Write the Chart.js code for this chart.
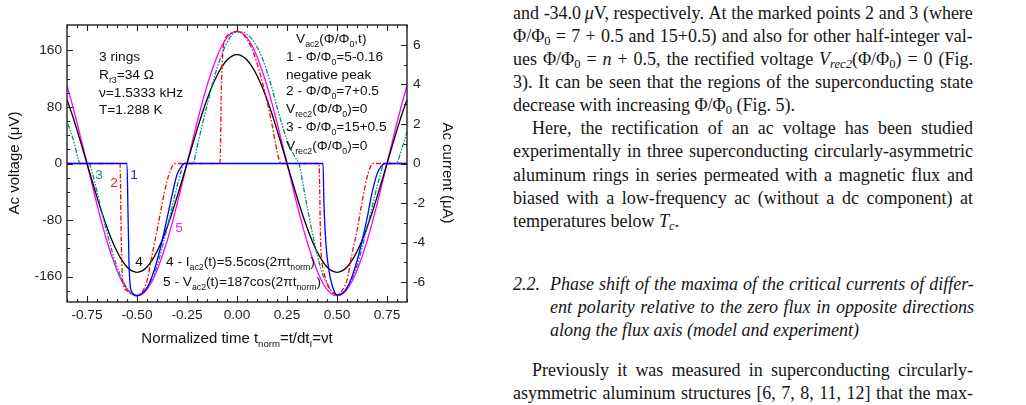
<!DOCTYPE html>
<html>
<head>
<meta charset="utf-8">
<script src="https://cdn.jsdelivr.net/npm/chart.js@4/dist/chart.umd.min.js"></script>
<style>
html, body { margin: 0; padding: 0; background: #fff; }
body { width: 1026px; height: 405px; position: relative; overflow: hidden; }
#chartBox { position: absolute; left: 0; top: 0; width: 470px; height: 405px; }
.ln { position: absolute; font-family: 'Liberation Serif', 'Times New Roman', serif; font-size: 18px;
      line-height: 23px; height: 23px; color: #151515; white-space: nowrap; }
.ln.j { display: flex; justify-content: space-between; }
.ln sub { font-size: 70%; vertical-align: -0.25em; line-height: 0; }
</style>
</head>
<body>
<div id="chartBox"><canvas id="acChart" width="470" height="405"></canvas></div>
<div id="textCol"></div>
<script>
// time axis (normalized) and the two reference curves
var tNorm = [-0.85,-0.825,-0.8,-0.775,-0.75,-0.725,-0.7,-0.675,-0.65,-0.625,-0.6,-0.575,-0.55,-0.525,-0.5,
  -0.475,-0.45,-0.425,-0.4,-0.375,-0.35,-0.325,-0.3,-0.275,-0.25,-0.225,-0.2,-0.175,-0.15,-0.125,-0.1,-0.075,-0.05,-0.025,0,
  0.025,0.05,0.075,0.1,0.125,0.15,0.175,0.2,0.225,0.25,0.275,0.3,0.325,0.35,0.375,0.4,0.425,0.45,0.475,0.5,
  0.525,0.55,0.575,0.6,0.625,0.65,0.675,0.7,0.725,0.75,0.775,0.8,0.825,0.85];
var vAc2 = [110,85,58,29,0,-29,-58,-85,-110,-132,-151,-167,-178,-185,-187,
  -185,-178,-167,-151,-132,-110,-85,-58,-29,0,29,58,85,110,132,151,167,178,185,187,
  185,178,167,151,132,110,85,58,29,0,-29,-58,-85,-110,-132,-151,-167,-178,-185,-187,
  -185,-178,-167,-151,-132,-110,-85,-58,-29,0,29,58,85,110];
var iAc2 = [3.23,2.50,1.70,0.86,0,-0.86,-1.70,-2.50,-3.23,-3.89,-4.45,-4.90,-5.23,-5.43,-5.50,
  -5.43,-5.23,-4.90,-4.45,-3.89,-3.23,-2.50,-1.70,-0.86,0,0.86,1.70,2.50,3.23,3.89,4.45,4.90,5.23,5.43,5.50,
  5.43,5.23,4.90,4.45,3.89,3.23,2.50,1.70,0.86,0,-0.86,-1.70,-2.50,-3.23,-3.89,-4.45,-4.90,-5.23,-5.43,-5.50,
  -5.43,-5.23,-4.90,-4.45,-3.89,-3.23,-2.50,-1.70,-0.86,0,0.86,1.70,2.50,3.23];

// curve 1: flux 5-0.16 (negative peak)
var tRec1 = [-0.85,-0.55,-0.545,-0.54,-0.535,-0.525,-0.5,-0.475,-0.45,-0.425,-0.4,-0.375,-0.35,-0.325,-0.3,-0.28,-0.265,
  0.43,0.435,0.445,0.46,0.475,0.49,0.5,0.525,0.55,0.575,0.6,0.625,0.65,0.675,0.7,0.72,0.74,0.85];
var vRec1 = [0,0,-70,-140,-170,-182,-187,-184,-176,-160,-138,-110,-78,-45,-16,-5,0,
  0,-60,-115,-152,-172,-183,-186,-184,-176,-160,-138,-110,-78,-42,-15,-4,0,0];

// curve 2: flux 7+0.5
var tRec2 = [-0.85,-0.585,-0.578,-0.57,-0.55,-0.525,-0.5,-0.475,-0.45,-0.425,-0.4,-0.375,-0.35,-0.33,-0.31,
  -0.085,-0.078,-0.07,-0.06,-0.045,-0.025,0,0.025,0.05,0.075,0.1,0.125,0.15,0.175,0.195,0.21,0.22,
  0.41,0.418,0.425,0.44,0.46,0.48,0.5,0.525,0.55,0.575,0.6,0.625,0.65,0.665,0.68,0.85];
var vRec2 = [0,0,-120,-170,-180,-185,-187,-182,-166,-130,-95,-58,-25,-8,0,
  0,110,160,176,182,185,187,184,176,162,142,117,88,55,25,6,0,
  0,-110,-140,-160,-175,-183,-186,-180,-165,-128,-95,-55,-20,-6,0,0];

// curve 3: flux 15+0.5
var tRec3 = [-0.845,-0.815,-0.795,-0.785,-0.74,-0.725,-0.7,-0.675,-0.65,-0.625,-0.6,-0.575,-0.55,-0.525,-0.5,
  -0.475,-0.45,-0.425,-0.4,-0.375,-0.35,-0.325,-0.3,-0.28,-0.265,-0.22,-0.2,-0.175,-0.15,-0.125,-0.1,-0.075,-0.05,-0.025,0,
  0.025,0.05,0.075,0.1,0.125,0.15,0.175,0.2,0.225,0.25,0.275,0.3,0.31,0.325,0.35,0.375,0.4,0.425,0.45,0.475,0.5,
  0.525,0.55,0.575,0.6,0.625,0.65,0.675,0.7,0.72,0.735,0.795,0.825,0.85];
var vRec3 = [56,30,8,0,0,-12,-40,-70,-98,-124,-146,-164,-176,-184,-186,
  -184,-176,-163,-145,-120,-92,-62,-33,-12,0,0,23,53,82,110,135,155,171,182,186,
  186,183,176,165,150,130,106,80,55,34,17,5,0,-22,-60,-96,-128,-154,-171,-182,-186,
  -184,-176,-163,-145,-120,-92,-62,-33,-12,0,0,22,45];

var xTicks = [-0.75,-0.5,-0.25,0,0.25,0.5,0.75];
var yTicks = [-160,-80,0,80,160];
var y2Ticks = [-6,-4,-2,0,2,4,6];

var FONT = "'Liberation Sans', Arial, sans-serif";
var INK = '#222';

function pts(xs, ys) {
    return xs.map(function(x, i) { return {x: x, y: ys[i]}; });
}

// text with subscripts: parts = [[text, isSub], ...]
function drawRich(ctx, x, y, parts, color, size, align) {
    var sub = size * 0.64;
    var w = 0;
    parts.forEach(function(p) {
        ctx.font = (p[1] ? sub : size) + 'px ' + FONT;
        w += ctx.measureText(p[0]).width;
    });
    var cx = align === 'center' ? x - w / 2 : x;
    ctx.fillStyle = color;
    ctx.textBaseline = 'middle';
    ctx.textAlign = 'left';
    parts.forEach(function(p) {
        ctx.font = (p[1] ? sub : size) + 'px ' + FONT;
        ctx.fillText(p[0], cx, p[1] ? y + size * 0.38 : y);
        cx += ctx.measureText(p[0]).width;
    });
}

var notes = [
    {x: 99, y: 57, c: '#111', p: [['3 rings']]},
    {x: 99, y: 75, c: '#111', p: [['R'], ['r3', 1], ['=34 \u03A9']]},
    {x: 99, y: 93, c: '#111', p: [['\u03BD=1.5333 kHz']]},
    {x: 99, y: 110, c: '#111', p: [['T=1.288 K']]},
    {x: 296, y: 39, c: '#111', p: [['V'], ['ac2', 1], ['(\u03A6/\u03A6'], ['0', 1], [',t)']]},
    {x: 286, y: 57, c: '#111', p: [['1 - \u03A6/\u03A6'], ['0', 1], ['=5-0.16']]},
    {x: 286, y: 75, c: '#111', p: [['negative peak']]},
    {x: 286, y: 91, c: '#111', p: [['2 - \u03A6/\u03A6'], ['0', 1], ['=7+0.5']]},
    {x: 286, y: 109, c: '#111', p: [['V'], ['rec2', 1], ['(\u03A6/\u03A6'], ['0', 1], [')=0']]},
    {x: 286, y: 127, c: '#111', p: [['3 - \u03A6/\u03A6'], ['0', 1], ['=15+0.5']]},
    {x: 286, y: 146, c: '#111', p: [['V'], ['rec2', 1], ['(\u03A6/\u03A6'], ['0', 1], [')=0']]},
    {x: 166, y: 262, c: '#111', p: [['4 - I'], ['ac2', 1], ['(t)=5.5cos(2\u03C0t'], ['norm', 1], [')']]},
    {x: 163, y: 282, c: '#111', p: [['5 - V'], ['ac2', 1], ['(t)=187cos(2\u03C0t'], ['norm', 1], [')']]},
    {x: 134, y: 175, c: '#1f1fff', p: [['1']], a: 'center'},
    {x: 114, y: 183, c: '#ff1a1a', p: [['2']], a: 'center'},
    {x: 99, y: 175, c: '#1a8f8f', p: [['3']], a: 'center'},
    {x: 139, y: 262, c: '#111', p: [['4']], a: 'center'},
    {x: 179, y: 228, c: '#ff22ff', p: [['5']], a: 'center'}
];

var framePlugin = {
    id: 'frame',
    afterDraw: function(chart) {
        var ctx = chart.ctx, a = chart.chartArea;
        var sx = chart.scales.x, sy = chart.scales.y, sy2 = chart.scales.y2;
        ctx.save();
        ctx.strokeStyle = INK;
        ctx.lineWidth = 1.4;
        ctx.strokeRect(a.left, a.top, a.right - a.left, a.bottom - a.top);
        ctx.lineWidth = 1.1;
        ctx.beginPath();
        var v, p, len;
        for (v = -0.85; v <= 0.851; v += 0.05) {
            var r = Math.round(v * 100) / 100;
            len = xTicks.indexOf(r) >= 0 ? 6 : 3;
            p = Math.round(sx.getPixelForValue(r)) + 0.5;
            ctx.moveTo(p, a.bottom); ctx.lineTo(p, a.bottom - len);
            ctx.moveTo(p, a.top); ctx.lineTo(p, a.top + len);
        }
        for (v = -180; v <= 180; v += 20) {
            len = yTicks.indexOf(v) >= 0 ? 6 : 3;
            p = Math.round(sy.getPixelForValue(v)) + 0.5;
            ctx.moveTo(a.left, p); ctx.lineTo(a.left + len, p);
        }
        for (v = -6; v <= 6; v += 1) {
            len = y2Ticks.indexOf(v) >= 0 ? 6 : 3;
            p = Math.round(sy2.getPixelForValue(v)) + 0.5;
            ctx.moveTo(a.right, p); ctx.lineTo(a.right - len, p);
        }
        ctx.stroke();

        notes.forEach(function(n) {
            drawRich(ctx, n.x, n.y, n.p, n.c, 13.7, n.a);
        });

        // axis titles
        drawRich(ctx, 237, 339, [['Normalized time t'], ['norm', 1], ['=t/dt'], ['I', 1], ['=\u03BDt']], '#111', 15, 'center');
        ctx.save();
        ctx.translate(15, 163);
        ctx.rotate(-Math.PI / 2);
        drawRich(ctx, 0, 0, [['Ac voltage (\u03BCV)']], '#111', 15, 'center');
        ctx.restore();
        ctx.save();
        ctx.translate(447, 173);
        ctx.rotate(Math.PI / 2);
        drawRich(ctx, 0, 0, [['Ac current (\u03BCA)']], '#111', 15, 'center');
        ctx.restore();
        ctx.restore();
    }
};

var lineOpts = {pointRadius: 0, borderWidth: 1.3, fill: false, cubicInterpolationMode: 'monotone'};

function ds(label, data, color, axis, dash) {
    return Object.assign({label: label, data: data, borderColor: color, yAxisID: axis, borderDash: dash || []}, lineOpts);
}

var config = {
    type: 'line',
    data: {
        datasets: [
            ds('1', pts(tRec1, vRec1), '#0000ff', 'y'),
            ds('2', pts(tRec2, vRec2), '#ff0000', 'y', [5, 2, 1.5, 2]),
            ds('3', pts(tRec3, vRec3), '#008b8b', 'y', [5, 1.5, 1.5, 1.5, 1.5, 1.5]),
            ds('4', pts(tNorm, iAc2), '#000000', 'y2'),
            ds('5', pts(tNorm, vAc2), '#ff00ff', 'y')
        ]
    },
    options: {
        responsive: false,
        animation: false,
        devicePixelRatio: 1,
        layout: {padding: {top: 25, left: 0, right: 0, bottom: 0}},
        plugins: {legend: {display: false}, tooltip: {enabled: false}},
        scales: {
            x: {
                type: 'linear', min: -0.85, max: 0.85,
                grid: {display: false, drawTicks: false},
                border: {display: false},
                afterBuildTicks: function(s) { s.ticks = xTicks.map(function(v) { return {value: v}; }); },
                afterFit: function(s) { s.height = 103; },
                ticks: {
                    autoSkip: false, maxRotation: 0, padding: 5, color: INK,
                    font: {family: FONT, size: 13.7},
                    callback: function(v) { return v.toFixed(2); }
                }
            },
            y: {
                position: 'left', min: -196, max: 196,
                grid: {display: false, drawTicks: false},
                border: {display: false},
                afterBuildTicks: function(s) { s.ticks = yTicks.map(function(v) { return {value: v}; }); },
                afterFit: function(s) { s.width = 67; },
                ticks: {autoSkip: false, padding: 5, color: INK, font: {family: FONT, size: 13.7}}
            },
            y2: {
                position: 'right', min: -7, max: 7,
                grid: {display: false, drawTicks: false},
                border: {display: false},
                afterBuildTicks: function(s) { s.ticks = y2Ticks.map(function(v) { return {value: v}; }); },
                afterFit: function(s) { s.width = 63; },
                ticks: {autoSkip: false, padding: 6, color: INK, font: {family: FONT, size: 13.7}}
            }
        }
    },
    plugins: [framePlugin]
};

var ctx = document.getElementById('acChart');
var acChart = new Chart(ctx, config);

// paper text beside the figure
var textLines = [
    {y: 14, x: 513, w: 460, j: 1, h: 'and -34.0&#8201;<i>\u03BC</i>V, respectively. At the marked points 2 and 3 (where'},
    {y: 37, x: 513, w: 460, j: 1, h: '\u03A6/\u03A6<sub>0</sub> = 7 + 0.5 and 15+0.5) and also for other half-integer val-'},
    {y: 60, x: 513, w: 460, j: 1, h: 'ues \u03A6/\u03A6<sub>0</sub> = <i>n</i> + 0.5, the rectified voltage <i>V<sub>rec2</sub></i>(\u03A6/\u03A6<sub>0</sub>) = 0 (Fig.'},
    {y: 83, x: 513, w: 460, j: 1, h: '3). It can be seen that the regions of the superconducting state'},
    {y: 106, x: 513, w: 460, j: 0, h: 'decrease with increasing \u03A6/\u03A6<sub>0</sub> (Fig. 5).'},
    {y: 129, x: 532, w: 441, j: 1, h: 'Here, the rectification of an ac voltage has been studied'},
    {y: 152, x: 513, w: 460, j: 1, h: 'experimentally in three superconducting circularly-asymmetric'},
    {y: 176, x: 513, w: 460, j: 1, h: 'aluminum rings in series permeated with a magnetic flux and'},
    {y: 199, x: 513, w: 460, j: 1, h: 'biased with a low-frequency ac (without a dc component) at'},
    {y: 222, x: 513, w: 460, j: 0, h: 'temperatures below <i>T<sub>c</sub></i>.'},
    {y: 285, x: 513, w: 40, j: 0, h: '<i>2.2.</i>'},
    {y: 285, x: 550, w: 424, j: 1, h: '<i>Phase shift of the maxima of the critical currents of differ-</i>'},
    {y: 308, x: 550, w: 424, j: 1, h: '<i>ent polarity relative to the zero flux in opposite directions</i>'},
    {y: 331, x: 550, w: 424, j: 0, h: '<i>along the flux axis (model and experiment)</i>'},
    {y: 371, x: 532, w: 441, j: 1, h: 'Previously it was measured in superconducting circularly-'},
    {y: 394, x: 513, w: 460, j: 1, h: 'asymmetric aluminum structures [6, 7, 8, 11, 12] that the max-'}
];

var col = document.getElementById('textCol');
textLines.forEach(function(L) {
    var d = document.createElement('div');
    d.className = 'ln' + (L.j ? ' j' : '');
    d.style.left = L.x + 'px';
    d.style.top = (L.y - 12) + 'px';
    d.style.width = L.w + 'px';
    if (L.j) {
        var italic = L.h.indexOf('<i>') === 0 && L.h.lastIndexOf('</i>') === L.h.length - 4 && L.h.indexOf('<i>', 1) < 0;
        var body = italic ? L.h.slice(3, -4) : L.h;
        d.innerHTML = body.split(' ').map(function(wd) {
            return '<span>' + (italic ? '<i>' + wd + '</i>' : wd) + '</span>';
        }).join('');
    } else {
        d.innerHTML = L.h;
    }
    col.appendChild(d);
});
</script>
</body>
</html>
